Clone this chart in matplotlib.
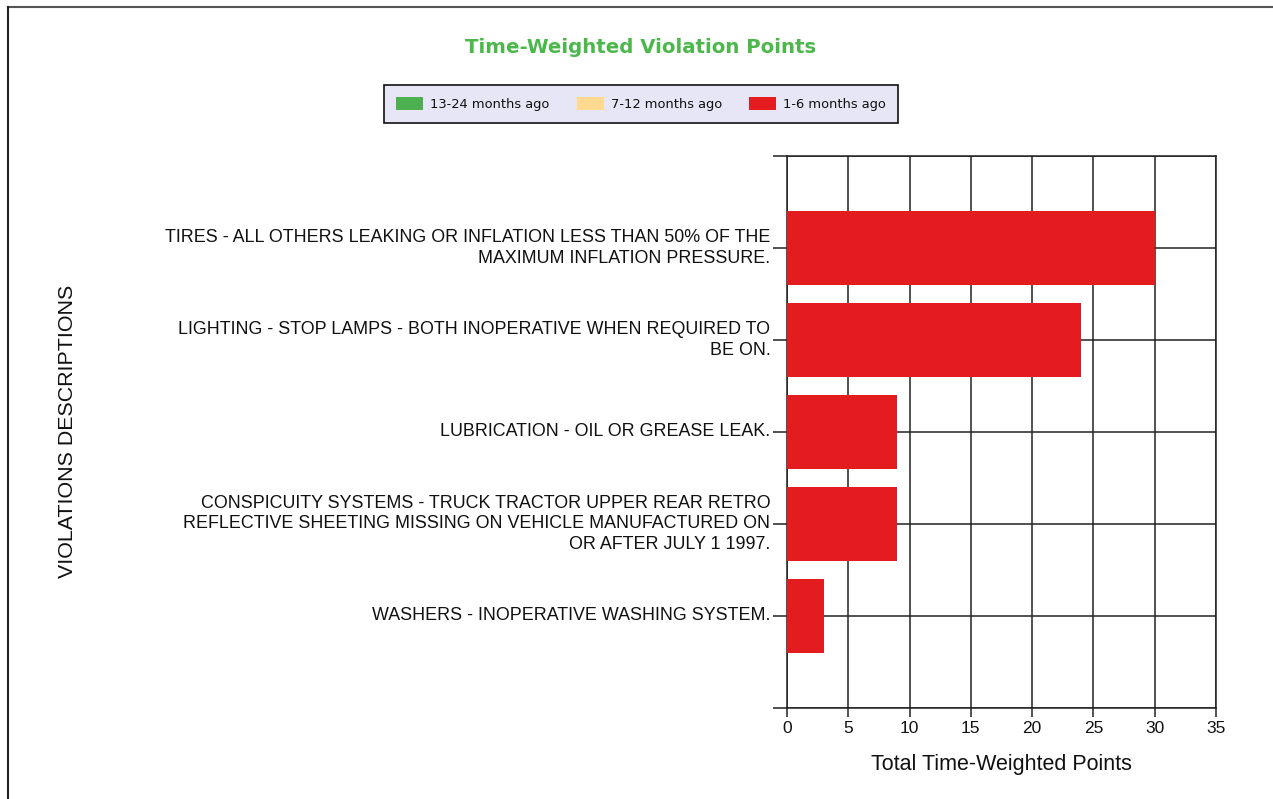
import numpy as np
import matplotlib
matplotlib.use("Agg")
import matplotlib.pyplot as plt
from matplotlib.lines import Line2D
from matplotlib.patches import Patch

# violation descriptions, top to bottom
labels = [
    "TIRES - ALL OTHERS LEAKING OR INFLATION LESS THAN 50% OF THE\nMAXIMUM INFLATION PRESSURE.",
    "LIGHTING - STOP LAMPS - BOTH INOPERATIVE WHEN REQUIRED TO\nBE ON.",
    "LUBRICATION - OIL OR GREASE LEAK.",
    "CONSPICUITY SYSTEMS - TRUCK TRACTOR UPPER REAR RETRO\nREFLECTIVE SHEETING MISSING ON VEHICLE MANUFACTURED ON\nOR AFTER JULY 1 1997.",
    "WASHERS - INOPERATIVE WASHING SYSTEM.",
]
series_names = ["13-24 months ago", "7-12 months ago", "1-6 months ago"]
pts_13_24 = [0, 0, 0, 0, 0]
pts_7_12 = [0, 0, 0, 0, 0]
pts_1_6 = [30, 24, 9, 9, 3]
colors = ["#4caf50", "#ffd990", "#e41b1f"]
x_ticks = [0, 5, 10, 15, 20, 25, 30, 35]

fig = plt.figure(figsize=(12.73, 7.99), dpi=100)
ax = fig.add_axes([0.6182, 0.1139, 0.3370, 0.6909])

n = len(labels)
ypos = np.arange(n, 0, -1)
left = np.zeros(n)
for vals, c in zip([pts_13_24, pts_7_12, pts_1_6], colors):
    ax.barh(ypos, vals, left=left, height=0.8, color=c, zorder=3)
    left = left + np.array(vals)

ax.set_xlim(0, 35)
ax.set_ylim(0, n + 1)
ax.set_xticks(x_ticks)
ax.set_yticks(np.arange(0, n + 2))
ax.set_yticklabels([""] + labels[::-1] + [""])
ax.grid(True, color="#222222", linewidth=1.1, zorder=1)
for s in ax.spines.values():
    s.set_color("#222222")
    s.set_linewidth(1.1)
ax.tick_params(axis="y", length=10, width=1.1, color="#222222", pad=2,
               labelsize=12.9)
ax.tick_params(axis="x", length=6.5, width=1.1, color="#222222", pad=3,
               labelsize=12.5)
for t in ax.get_yticklabels() + ax.get_xticklabels():
    t.set_fontfamily("Liberation Sans")
    t.set_color("#111111")
for t in ax.get_yticklabels():
    t.set_multialignment("right")
    t.set_linespacing(1.27)
    t.set_verticalalignment("center")

ax.set_xlabel("Total Time-Weighted Points", fontsize=15.5,
              fontfamily="Liberation Sans", color="#111111", labelpad=12.5)
fig.text(0.0534, 0.46, "VIOLATIONS DESCRIPTIONS", rotation=90, fontsize=15.4,
         fontfamily="Liberation Sans", color="#111111", ha="center", va="center")

fig.text(0.5028, 0.940, "Time-Weighted Violation Points", fontsize=14.2,
         fontweight="bold", color="#4cb84c", ha="center", va="center",
         fontfamily="DejaVu Sans")

handles = [Patch(facecolor=c, edgecolor="none") for c in colors]
leg = fig.legend(handles, series_names, loc="center", ncol=3,
                 bbox_to_anchor=(0.5035, 0.8698), frameon=True, fancybox=False,
                 edgecolor="#111111", facecolor="#e6e6f6", framealpha=1,
                 prop={"family": "DejaVu Sans", "size": 9.4},
                 labelcolor="#111111",
                 handlelength=2.07, handleheight=1.08, handletextpad=0.54,
                 columnspacing=2.07, borderpad=0.95)
leg.get_frame().set_linewidth(1.2)

# page border (top and left)
fig.add_artist(Line2D([0.0063, 1.0], [0.991, 0.991], color="#555555",
                      linewidth=1.5, transform=fig.transFigure))
fig.add_artist(Line2D([0.0063, 0.0063], [0.0, 0.991], color="#222222",
                      linewidth=1.5, transform=fig.transFigure))

fig.savefig("out.png", dpi=100)
